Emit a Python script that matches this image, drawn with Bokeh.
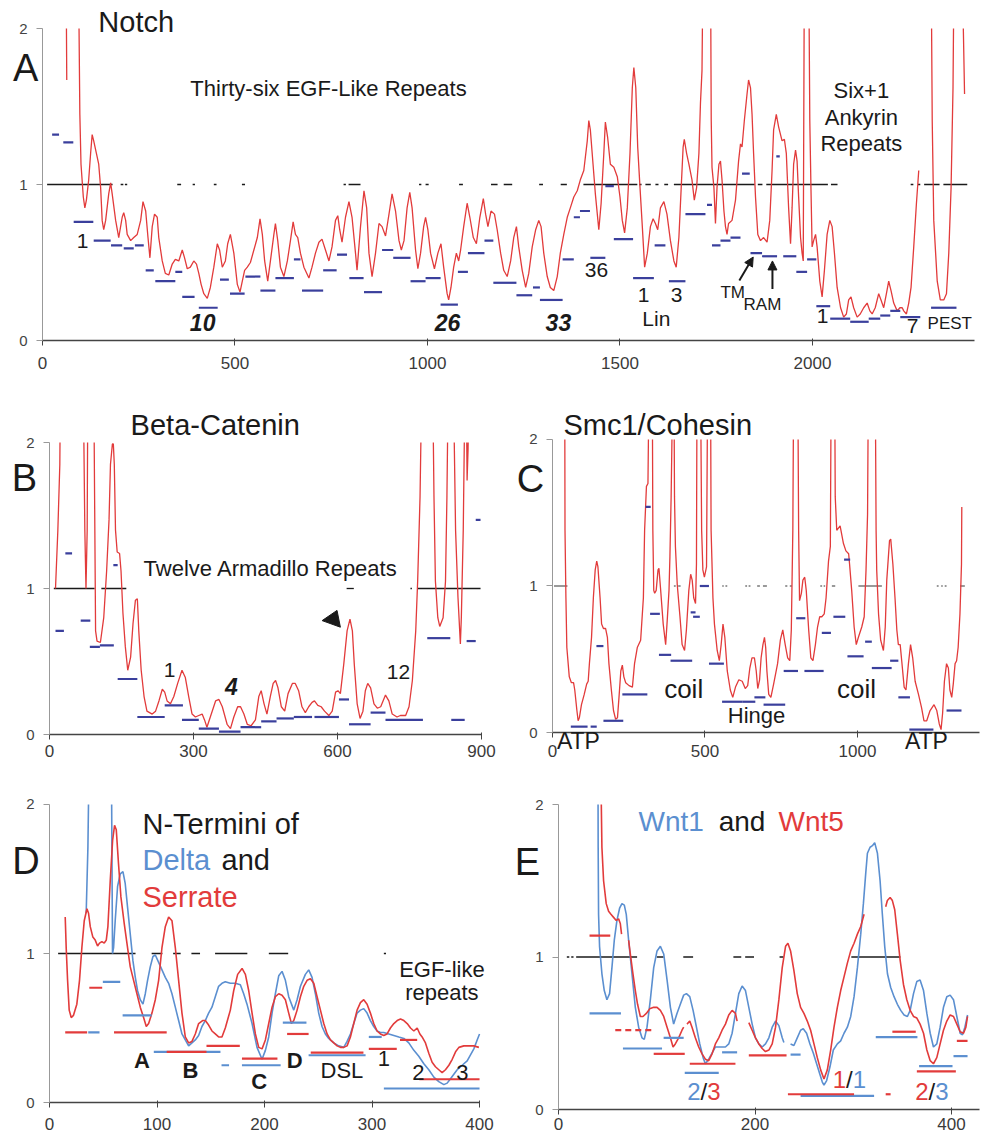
import math
from bokeh.plotting import figure
from bokeh.layouts import column, row
from bokeh.models import Range1d, FixedTicker, Label, Arrow, NormalHead
from bokeh.embed import file_html
from bokeh.resources import INLINE

N = None
RED = "#e23b3b"
NAVY = "#3a3f9c"
LBLUE = "#5b8fd0"
BLACK = "#1a1a1a"
FONT = "Liberation Sans"

# ---------------- Panel A : Notch ----------------
A_curve = [
    (61, 2.5), (63, 1.67), N,
    (93, 2.5), (97, 1.45), (100, 1.13), (106, 0.92), (110, 0.85), (114, 0.90), (120, 1.03), (125, 1.20),
    (129, 1.32), (133, 1.28), (140, 1.20), (146, 1.13), (151, 0.98), (155, 0.77), (159, 0.71), (164, 0.77),
    (172, 0.94), (177, 1.01), (181, 0.94), (190, 0.77), (198, 0.66), (207, 0.79), (211, 0.82), (216, 0.77),
    (220, 0.68), (229, 0.64), (237, 0.66), (246, 0.68), (255, 0.77), (261, 0.89), (268, 0.83), (274, 0.66),
    (279, 0.53), (285, 0.73), (291, 0.81), (298, 0.79), (302, 0.66), (311, 0.51), (319, 0.43), (328, 0.42),
    (337, 0.49), (345, 0.52), (354, 0.51), (363, 0.58), (369, 0.53), (376, 0.46), (384, 0.47), (393, 0.51),
    (400, 0.49), (406, 0.43), (412, 0.36), (419, 0.30), (428, 0.27), (436, 0.34), (445, 0.47), (454, 0.62),
    (460, 0.58), (467, 0.47), (475, 0.51), (481, 0.62), (488, 0.68), (497, 0.56), (506, 0.36), (513, 0.31),
    (519, 0.38), (525, 0.45), (532, 0.47), (540, 0.50), (549, 0.58), (558, 0.66), (565, 0.78), (571, 0.68),
    (577, 0.51), (585, 0.38), (592, 0.51), (601, 0.68), (605, 0.75), (611, 0.64), (618, 0.47), (627, 0.41),
    (636, 0.51), (644, 0.64), (651, 0.76), (657, 0.68), (663, 0.66), (670, 0.56), (679, 0.47), (692, 0.40),
    (700, 0.47), (709, 0.56), (718, 0.63), (726, 0.65), (735, 0.58), (744, 0.51), (752, 0.60), (761, 0.77),
    (767, 0.80), (772, 0.71), (778, 0.63), (787, 0.79), (796, 0.89), (804, 0.79), (813, 0.56), (817, 0.45),
    (826, 0.73), (835, 0.96), (842, 0.85), (848, 0.56), (856, 0.41), (865, 0.56), (874, 0.75), (882, 0.73),
    (891, 0.67), (900, 0.81), (908, 0.94), (917, 0.83), (926, 0.64), (932, 0.58), (939, 0.64), (947, 0.85),
    (954, 0.95), (960, 0.85), (969, 0.58), (975, 0.46), (982, 0.56), (990, 0.73), (995, 0.79), (1001, 0.71),
    (1008, 0.56), (1018, 0.46), (1027, 0.56), (1035, 0.62), (1042, 0.47), (1051, 0.30), (1055, 0.26),
    (1061, 0.34), (1068, 0.47), (1075, 0.56), (1081, 0.51), (1086, 0.58), (1094, 0.73), (1103, 0.88),
    (1110, 0.79), (1119, 0.66), (1127, 0.62), (1136, 0.79), (1145, 0.91), (1151, 0.81), (1157, 0.73),
    (1165, 0.83), (1174, 0.81), (1181, 0.71), (1190, 0.56), (1198, 0.45), (1207, 0.41), (1216, 0.51),
    (1224, 0.66), (1231, 0.73), (1237, 0.60), (1246, 0.45), (1255, 0.34), (1263, 0.43), (1272, 0.60),
    (1281, 0.71), (1289, 0.77), (1295, 0.73), (1302, 0.56), (1311, 0.41), (1319, 0.34), (1328, 0.32),
    (1337, 0.41), (1345, 0.56), (1354, 0.68), (1363, 0.79), (1371, 0.85), (1380, 0.92), (1389, 0.96),
    (1397, 1.03), (1406, 1.09), (1415, 1.28), (1419, 1.41), (1423, 1.35), (1430, 1.13), (1436, 0.94),
    (1445, 0.71), (1451, 0.88), (1458, 1.20), (1462, 1.40), (1468, 1.30), (1475, 1.13), (1484, 1.11),
    (1493, 1.05), (1500, 0.92), (1506, 0.77), (1512, 0.69), (1519, 0.85), (1526, 1.20), (1532, 1.62),
    (1536, 1.75), (1541, 1.62), (1546, 1.24), (1552, 0.98), (1558, 0.73), (1564, 0.47), (1571, 0.56),
    (1579, 0.73), (1586, 0.78), (1592, 0.75), (1598, 0.71), (1605, 0.85), (1614, 0.89), (1622, 0.81),
    (1631, 0.64), (1640, 0.51), (1646, 0.47), (1653, 0.66), (1659, 0.98), (1664, 1.24), (1667, 1.29),
    (1673, 1.20), (1679, 1.13), (1687, 1.03), (1693, 0.90), (1699, 0.98), (1705, 1.20), (1709, 1.52),
    (1713, 1.73), (1716, 2.5), (1735, 2.5), (1737, 1.41), (1739, 1.11), (1744, 0.98), (1748, 0.75),
    (1752, 0.98), (1757, 1.13), (1761, 1.15), (1765, 1.03), (1770, 0.83), (1774, 0.73), (1778, 0.68),
    (1782, 0.75), (1791, 0.77), (1800, 0.90), (1808, 1.15), (1813, 1.26), (1817, 1.24), (1823, 1.41),
    (1830, 1.58), (1834, 1.67), (1839, 1.62), (1843, 1.45), (1847, 1.20), (1852, 0.92), (1858, 0.68),
    (1865, 0.64), (1873, 0.66), (1882, 0.63), (1889, 0.77), (1895, 1.09), (1899, 1.35), (1906, 1.45),
    (1912, 1.37), (1921, 1.28), (1927, 1.29), (1932, 1.20), (1938, 0.85), (1943, 0.62), (1947, 0.85),
    (1951, 1.13), (1956, 1.22), (1960, 1.15), (1964, 0.92), (1969, 0.66), (1973, 0.56), (1976, 0.51),
    (1979, 2.5), (1990, 2.5), (1993, 1.41), (1996, 0.98), (1999, 0.60), (2003, 0.64), (2008, 0.68),
    (2012, 0.60), (2019, 0.38), (2025, 0.28), (2031, 0.45), (2038, 0.68), (2045, 0.77), (2051, 0.73),
    (2057, 0.56), (2064, 0.34), (2073, 0.21), (2081, 0.15), (2088, 0.17), (2094, 0.26), (2100, 0.28),
    (2107, 0.21), (2116, 0.15), (2124, 0.17), (2133, 0.21), (2142, 0.24), (2149, 0.19), (2155, 0.17),
    (2163, 0.21), (2172, 0.30), (2178, 0.26), (2185, 0.21), (2192, 0.30), (2198, 0.38), (2204, 0.32),
    (2211, 0.24), (2220, 0.19), (2227, 0.21), (2233, 0.21), (2237, 0.19), (2244, 0.17), (2250, 0.24),
    (2256, 0.34), (2263, 0.60), (2270, 0.88), (2276, 1.09), N,
    (2308, 2.5), (2311, 1.41), (2315, 0.77), (2324, 0.38), (2332, 0.26), (2341, 0.26), (2348, 0.30),
    (2354, 0.56), (2360, 0.98), (2365, 1.62), (2368, 2.5), N,
    (2388, 2.5), (2395, 1.58),
]
A_blue = [
    (25, 43, 1.32), (54, 80, 1.27), (81, 132, 0.76), (133, 177, 0.64), (178, 207, 0.61), (211, 237, 0.59),
    (240, 263, 0.61), (268, 289, 0.45), (293, 345, 0.38), (345, 363, 0.44), (363, 395, 0.28), (406, 455, 0.21),
    (461, 484, 0.39), (487, 525, 0.30), (527, 566, 0.41), (566, 605, 0.32), (605, 653, 0.40), (653, 670, 0.52),
    (674, 729, 0.32), (729, 764, 0.45), (765, 791, 0.55), (797, 834, 0.40), (835, 882, 0.31), (882, 911, 0.58),
    (911, 956, 0.53), (956, 995, 0.38), (995, 1034, 0.40), (1034, 1079, 0.23), (1079, 1105, 0.44),
    (1105, 1148, 0.56), (1148, 1171, 0.64), (1171, 1231, 0.37), (1231, 1272, 0.29), (1274, 1292, 0.34),
    (1292, 1351, 0.26), (1351, 1380, 0.52), (1380, 1396, 0.79), (1396, 1422, 0.83), (1423, 1462, 0.53),
    (1462, 1484, 0.99), (1484, 1534, 0.65), (1534, 1588, 0.40), (1590, 1618, 0.61), (1627, 1670, 0.38),
    (1670, 1722, 0.81), (1726, 1739, 0.87), (1739, 1761, 0.61), (1761, 1787, 0.64), (1787, 1813, 0.66),
    (1817, 1837, 1.07), (1839, 1869, 0.56), (1869, 1908, 0.54), (1906, 1915, 1.18), (1924, 1958, 0.54),
    (1958, 1986, 0.44), (1986, 2010, 0.52), (2010, 2046, 0.22), (2046, 2098, 0.14), (2098, 2146, 0.12),
    (2146, 2176, 0.14), (2176, 2202, 0.16), (2202, 2228, 0.19), (2228, 2280, 0.15), (2308, 2374, 0.21),
]
A_one = [
    (12, 182), (203, 210), (214, 220), (350, 360), (390, 396), (445, 452), (518, 526), (782, 788),
    (795, 826), (978, 984), (995, 1003), (1082, 1092), (1165, 1182), (1198, 1220), (1290, 1300),
    (1346, 1362), (1405, 1545), (1550, 1556), (1566, 1580), (1592, 1600), (1615, 1625), (1640, 1850),
    (1858, 1870), (1880, 2040), (2048, 2065), (2255, 2262), (2274, 2280), (2290, 2330), (2340, 2402),
]
A_xticks = [0, 500, 1000, 1500, 2000]

# ---------------- Panel B : Beta-Catenin ----------------
B_curve = [
    (12.5, 1.00), (17.4, 1.40), (21.5, 1.85), (23, 2.5), N,
    (70, 2.5), (73.6, 1.40), (76, 1.0), (78.5, 1.40), (80, 2.5), N,
    (92, 2.5), (96, 0.71), (99, 0.64), (106, 0.63), (113, 0.80), (119, 1.12), (124, 1.47), (127, 1.85),
    (131, 1.99), (133, 1.99), (135, 1.85), (137.5, 1.40), (141, 1.25), (146, 1.24), (149, 1.12), (153, 0.83),
    (158, 0.60), (163, 0.44), (169, 0.53), (174, 0.76), (179, 0.92), (183, 0.93), (186, 0.71), (191, 0.44),
    (197, 0.26), (203, 0.16), (214, 0.14), (221, 0.16), (228, 0.23), (235, 0.31), (240, 0.29), (245, 0.23),
    (252, 0.21), (259, 0.26), (267, 0.35), (276, 0.44), (283, 0.39), (290, 0.26), (297, 0.14), (304, 0.12),
    (311, 0.13), (318, 0.14), (323, 0.10), (328, 0.05), (335, 0.12), (346, 0.23), (353, 0.24), (360, 0.19),
    (370, 0.07), (377, 0.04), (384, 0.12), (392, 0.19), (398, 0.19), (405, 0.14), (412, 0.07), (420, 0.06),
    (429, 0.10), (436, 0.26), (441, 0.30), (447, 0.21), (453, 0.14), (460, 0.26), (466, 0.35), (471, 0.37),
    (476, 0.32), (483, 0.19), (490, 0.16), (497, 0.28), (506, 0.35), (512, 0.35), (519, 0.30), (526, 0.19),
    (533, 0.15), (540, 0.19), (547, 0.22), (552, 0.23), (559, 0.20), (566, 0.19), (573, 0.16), (582, 0.13),
    (589, 0.16), (596, 0.29), (601, 0.30), (606, 0.28), (613, 0.48), (620, 0.71), (626, 0.79), (631, 0.71),
    (635, 0.48), (641, 0.21), (647, 0.11), (653, 0.16), (658, 0.30), (663, 0.35), (669, 0.32), (676, 0.21),
    (683, 0.18), (690, 0.19), (700, 0.27), (707, 0.23), (714, 0.14), (724, 0.12), (731, 0.13), (742, 0.13),
    (749, 0.19), (756, 0.37), (763, 0.71), (767, 1.05), (772, 1.63), (776, 2.5), (798, 2.5), (801, 1.63),
    (804, 1.05), (809, 0.80), (813, 0.74), (820, 0.80), (825, 1.05), (828, 1.63), (831, 2.5), (841, 2.5),
    (846, 1.40), (851, 0.94), (856, 0.62), (858, 0.80), (862, 1.40), (866, 2.5), (868, 2.5), (870, 1.74),
    (872, 1.95), (874, 2.5),
]
B_blue = [
    (12.5, 30, 0.71), (33, 47, 1.24), (65, 85, 0.78), (84, 105, 0.60), (105, 134, 0.61), (133, 142, 1.16),
    (142, 183, 0.38), (183, 240, 0.12), (240, 278, 0.20), (276, 311, 0.10), (311, 353, 0.04), (353, 398, 0.02),
    (398, 441, 0.05), (441, 473, 0.09), (473, 509, 0.11), (509, 547, 0.12), (552, 603, 0.12), (603, 624, 0.24),
    (624, 669, 0.07), (669, 700, 0.15), (700, 778, 0.10), (787, 835, 0.66), (837, 865, 0.10), (869, 888, 0.64),
    (888, 898, 1.47),
]
B_one = [(9, 94), (108, 160), (619, 634), (752, 755), (766, 898)]
B_xticks = [0, 300, 600, 900]

# ---------------- Panel C : Smc1/Cohesin ----------------
C_curve = [
    (40, 2.5), (41, 1.38), (44, 0.92), (47, 0.58), (55, 0.38), (62, 0.34), (69, 0.34), (73, 0.29), (80, 0.15),
    (84, 0.08), (88, 0.10), (95, 0.19), (104, 0.26), (112, 0.33), (117, 0.35), (121, 0.47), (128, 0.65),
    (134, 0.92), (140, 1.11), (145, 1.17), (149, 1.13), (156, 0.92), (161, 0.74), (167, 0.71), (174, 0.71),
    (180, 0.65), (185, 0.47), (193, 0.29), (200, 0.15), (207, 0.09), (213, 0.10), (218, 0.24), (224, 0.42),
    (229, 0.46), (234, 0.38), (240, 0.34), (251, 0.32), (262, 0.31), (269, 0.47), (278, 0.58), (289, 0.63),
    (298, 0.92), (302, 1.38), (308, 1.68), (313, 1.70), (317, 2.5), (327, 2.5), (329, 1.38), (332, 0.97),
    (335, 0.95), (340, 0.97), (346, 1.11), (349, 1.12), (354, 0.99), (363, 0.74), (371, 0.60), (376, 0.76),
    (382, 0.97), (385, 1.20), (389, 1.61), (395, 2.5), (398, 2.5), (400, 1.61), (403, 1.27), (409, 1.01),
    (418, 0.79), (425, 0.60), (433, 0.56), (439, 0.70), (447, 0.97), (453, 1.08), (458, 1.04), (463, 0.92),
    (469, 0.88), (472, 1.15), (474, 2.5), (485, 2.5), (489, 1.38), (493, 1.11), (498, 1.06), (505, 1.13),
    (509, 2.5), (518, 2.5), (520, 1.38), (526, 0.92), (531, 0.74), (540, 0.56), (547, 0.49), (553, 0.60),
    (559, 0.74), (565, 0.65), (573, 0.42), (583, 0.29), (591, 0.24), (600, 0.31), (611, 0.36), (622, 0.35),
    (632, 0.30), (640, 0.32), (647, 0.44), (654, 0.51), (662, 0.51), (668, 0.42), (673, 0.30), (679, 0.36),
    (684, 0.51), (690, 0.60), (695, 0.65), (699, 0.58), (703, 0.42), (709, 0.26), (716, 0.24), (725, 0.33),
    (738, 0.47), (747, 0.63), (755, 0.70), (763, 0.60), (771, 0.51), (778, 0.49), (783, 0.70), (788, 1.38),
    (791, 2.5), (804, 2.5), (807, 1.38), (810, 0.90), (816, 0.95), (821, 1.04), (827, 1.06), (832, 0.97),
    (840, 0.70), (847, 0.51), (854, 0.49), (862, 0.60), (869, 0.72), (876, 0.79), (883, 0.79), (891, 0.81),
    (897, 0.92), (905, 1.17), (911, 1.27), (914, 2.5), (925, 2.5), (927, 1.61), (932, 1.38), (943, 1.41),
    (954, 1.29), (962, 1.24), (971, 1.22), (974, 1.15), (981, 0.97), (989, 0.72), (996, 0.60), (1003, 0.65),
    (1014, 0.72), (1022, 0.79), (1028, 1.11), (1033, 1.49), (1036, 2.5), (1058, 2.5), (1061, 1.38),
    (1063, 1.11), (1069, 0.81), (1076, 0.63), (1085, 0.56), (1091, 0.72), (1096, 1.04), (1105, 1.31),
    (1109, 1.32), (1116, 1.15), (1123, 0.92), (1129, 0.70), (1134, 0.60), (1140, 0.60), (1145, 0.49),
    (1153, 0.31), (1159, 0.29), (1167, 0.47), (1174, 0.60), (1181, 0.51), (1189, 0.35), (1200, 0.26),
    (1210, 0.17), (1218, 0.08), (1227, 0.08), (1238, 0.15), (1251, 0.19), (1260, 0.15), (1268, 0.06),
    (1274, 0.02), (1279, 0.13), (1285, 0.35), (1292, 0.47), (1298, 0.44), (1303, 0.29), (1309, 0.24),
    (1314, 0.33), (1320, 0.47), (1325, 0.49), (1330, 0.58), (1336, 0.81), (1341, 1.15), (1342, 1.54),
]
C_blue = [
    (60, 115, 0.04), (125, 145, 0.04), (144, 167, 0.59), (167, 232, 0.08), (229, 311, 0.26), (305, 322, 1.54),
    (320, 352, 0.81), (349, 389, 0.53), (387, 458, 0.49), (453, 469, 0.82), (461, 483, 0.79), (483, 513, 1.00),
    (513, 562, 0.47), (556, 622, 0.21), (622, 665, 0.21), (662, 698, 0.24), (692, 763, 0.19), (758, 805, 0.42),
    (799, 829, 0.78), (826, 889, 0.42), (883, 913, 0.68), (921, 960, 0.79), (956, 976, 1.18), (967, 1020, 0.52),
    (1025, 1047, 0.62), (1047, 1112, 0.44), (1107, 1134, 0.49), (1134, 1172, 0.24), (1170, 1249, 0.02),
    (1292, 1341, 0.15),
]
C_one = [
    (5, 49), (398, 404), (412, 420), (556, 562), (567, 573), (632, 638), (643, 649), (671, 680), (690, 703),
    (763, 770), (778, 785), (878, 884), (889, 894), (916, 927), (1003, 1080), (1260, 1266), (1274, 1280),
    (1286, 1292), (1336, 1352),
]
C_xticks = [0, 500, 1000]

# ---------------- Panel D : Delta / Serrate ----------------
D_serrate = [
    (14.6, 1.245), (15.5, 1.04), (16.8, 0.82), (18.3, 0.62), (20.2, 0.57), (22.3, 0.585), (25.4, 0.66),
    (27.9, 0.82), (30.1, 1.04), (32.3, 1.22), (34.8, 1.30), (36.3, 1.27), (37.9, 1.18), (40.3, 1.11),
    (42.5, 1.09), (44.7, 1.05), (46.5, 1.07), (48.7, 1.08), (50.9, 1.07), (52.8, 1.09), (54.3, 1.18),
    (56.5, 1.49), (58.7, 1.76), (60.5, 1.86), (62.1, 1.83), (64.2, 1.60), (66.4, 1.38), (69.5, 1.20),
    (72.0, 1.07), (75.1, 0.91), (78.2, 0.82), (81.3, 0.73), (84.4, 0.64), (87.5, 0.57), (90.0, 0.51),
    (92.2, 0.53), (95.3, 0.60), (98.4, 0.69), (101.5, 0.82), (104.6, 1.04), (107.7, 1.18), (110.8, 1.245),
    (113.9, 1.22), (117.0, 1.04), (120.1, 0.82), (123.2, 0.60), (126.3, 0.44), (129.4, 0.40), (132.5, 0.41),
    (135.6, 0.46), (138.7, 0.53), (142.4, 0.55), (144.9, 0.55), (148.0, 0.52), (151.1, 0.48), (154.2, 0.46),
    (157.3, 0.44), (160.4, 0.44), (163.5, 0.50), (168.2, 0.62), (171.3, 0.75), (175.0, 0.86), (179.1, 0.90),
    (182.2, 0.86), (185.3, 0.75), (188.4, 0.60), (191.5, 0.46), (194.6, 0.37), (197.7, 0.36), (200.8, 0.42),
    (203.9, 0.53), (207.0, 0.64), (210.1, 0.71), (213.2, 0.73), (216.3, 0.72), (219.4, 0.69), (222.5, 0.60),
    (225.0, 0.53), (227.2, 0.55), (230.3, 0.62), (233.4, 0.71), (236.5, 0.78), (239.6, 0.82), (242.7, 0.83),
    (245.8, 0.80), (248.9, 0.71), (252.0, 0.62), (255.1, 0.53), (258.2, 0.46), (261.3, 0.42), (264.4, 0.40),
    (267.5, 0.38), (270.6, 0.37), (273.7, 0.37), (276.8, 0.38), (279.9, 0.44), (283.0, 0.53), (286.1, 0.62),
    (289.2, 0.67), (292.3, 0.69), (295.4, 0.66), (298.5, 0.60), (301.6, 0.53), (304.7, 0.48), (307.8, 0.46),
    (310.9, 0.45), (314.0, 0.46), (317.1, 0.50), (320.3, 0.53), (323.4, 0.55), (326.5, 0.56), (329.6, 0.55),
    (332.7, 0.53), (335.8, 0.50), (338.9, 0.48), (342.0, 0.50), (344.5, 0.46), (346.6, 0.44), (349.7, 0.40),
    (352.8, 0.33), (355.9, 0.27), (359.0, 0.24), (362.1, 0.22), (365.2, 0.20), (368.3, 0.22), (371.5, 0.25),
    (374.6, 0.29), (377.7, 0.34), (380.8, 0.37), (385.4, 0.38), (390.1, 0.38), (394.7, 0.38), (399.4, 0.37),
]
D_delta = [
    (34.1, 1.27), (35.7, 1.71), (37.2, 2.5), (57.4, 2.5), (58.6, 1.0), (59.6, 1.04), (61.1, 1.22), (63.3, 1.45),
    (65.8, 1.535), (68.3, 1.55), (70.4, 1.47), (72.6, 1.31), (75.1, 1.13), (77.6, 0.95), (79.8, 0.84),
    (81.9, 0.75), (84.4, 0.69), (86.9, 0.66), (89.1, 0.73), (91.2, 0.82), (93.7, 0.91), (96.2, 0.98),
    (98.4, 0.99), (101.5, 0.94), (104.6, 0.89), (107.7, 0.84), (110.8, 0.80), (113.9, 0.73), (117.0, 0.64),
    (120.1, 0.55), (123.2, 0.46), (126.3, 0.42), (129.4, 0.38), (132.5, 0.40), (135.6, 0.42), (138.7, 0.45),
    (141.8, 0.51), (144.9, 0.55), (148.0, 0.60), (151.1, 0.64), (154.2, 0.71), (157.3, 0.78), (160.4, 0.80),
    (163.5, 0.81), (168.2, 0.80), (172.8, 0.80), (177.5, 0.79), (180.6, 0.73), (183.7, 0.66), (188.4, 0.53),
    (193.0, 0.37), (197.7, 0.29), (200.8, 0.35), (203.9, 0.44), (207.0, 0.60), (210.1, 0.73), (213.2, 0.85),
    (216.3, 0.88), (219.4, 0.82), (222.5, 0.71), (227.2, 0.62), (230.3, 0.69), (233.4, 0.78), (238.0, 0.86),
    (241.1, 0.89), (244.2, 0.84), (247.3, 0.73), (250.4, 0.60), (253.5, 0.51), (256.6, 0.46), (259.7, 0.43),
    (264.4, 0.40), (269.0, 0.38), (273.7, 0.37), (276.8, 0.41), (279.9, 0.46), (283.0, 0.53), (286.1, 0.60),
    (289.2, 0.62), (292.3, 0.63), (295.4, 0.60), (298.5, 0.55), (301.6, 0.51), (304.7, 0.48), (307.8, 0.47),
    (310.9, 0.47), (315.6, 0.46), (320.3, 0.45), (324.9, 0.44), (329.6, 0.43), (334.2, 0.40), (338.9, 0.35),
    (343.5, 0.31), (348.2, 0.26), (352.8, 0.22), (357.5, 0.17), (362.1, 0.14), (366.8, 0.12), (369.9, 0.13),
    (373.0, 0.16), (376.1, 0.19), (379.2, 0.22), (382.3, 0.24), (385.4, 0.26), (388.5, 0.28), (391.6, 0.32),
    (394.7, 0.36), (397.8, 0.42), (400, 0.46),
]
D_red_segs = [
    (14.6, 35, 0.47), (37, 49, 0.77), (60, 109, 0.47), (109, 146, 0.34), (146, 177, 0.38), (179, 212, 0.295),
    (221, 241, 0.46), (243, 292, 0.335), (297, 323, 0.36), (326, 342, 0.42), (344, 400, 0.156),
]
D_blue_segs = [
    (36, 46.5, 0.47), (49.6, 65.8, 0.81), (68, 95, 0.585), (97, 159, 0.34), (160, 167, 0.25), (179, 215, 0.25),
    (217, 239, 0.536), (241, 294, 0.317), (297, 309, 0.44), (311, 400, 0.094),
]
D_one = [(8, 80), (95, 105), (115, 122), (132, 140), (154, 184), (204, 222), (311, 313)]
D_xticks = [0, 100, 200, 300, 400]

# ---------------- Panel E : Wnt1 / Wnt5 ----------------
E_wnt1 = [
    (40.1, 2.5), (40.4, 1.72), (40.8, 1.28), (41.8, 1.07), (44.2, 0.89), (46.6, 0.78), (49.3, 0.72),
    (52.0, 0.76), (54.4, 0.93), (56.8, 1.11), (59.5, 1.24), (62.2, 1.32), (64.6, 1.35), (67.0, 1.34),
    (69.0, 1.28), (71.4, 1.11), (74.8, 0.89), (78.2, 0.67), (81.6, 0.54), (85.0, 0.47), (87.3, 0.46),
    (90.1, 0.54), (93.5, 0.72), (96.9, 0.93), (100.3, 1.04), (103.7, 1.07), (107.1, 1.02), (110.5, 0.85),
    (113.9, 0.67), (117.2, 0.56), (120.6, 0.63), (124.0, 0.69), (127.4, 0.75), (130.2, 0.76), (133.6, 0.74),
    (137.0, 0.65), (140.4, 0.54), (143.8, 0.43), (147.2, 0.34), (149.5, 0.30), (152.9, 0.33), (156.3, 0.37),
    (159.7, 0.41), (163.1, 0.41), (166.5, 0.41), (169.9, 0.41), (173.3, 0.43), (176.7, 0.50), (180.1, 0.63),
    (183.5, 0.76), (186.9, 0.81), (190.3, 0.78), (193.7, 0.67), (197.1, 0.56), (200.5, 0.47), (203.9, 0.43),
    (207.3, 0.41), (210.7, 0.43), (214.1, 0.47), (217.5, 0.54), (220.9, 0.58), (224.3, 0.55), (227.7, 0.47),
    (229.4, 0.44), N,
    (236.2, 0.43), (239.6, 0.42), (243.0, 0.47), (246.4, 0.52), (249.1, 0.53), (252.5, 0.50), (255.9, 0.43),
    (259.3, 0.37), (262.7, 0.30), (266.1, 0.23), (268.5, 0.18), (270.2, 0.16), (272.9, 0.19), (276.3, 0.28),
    (279.7, 0.39), (283.8, 0.43), (287.2, 0.45), (290.6, 0.50), (294.0, 0.54), (297.4, 0.61), (300.8, 0.74),
    (304.2, 0.93), (307.6, 1.15), (310.3, 1.35), (312.7, 1.55), (314.4, 1.68), (317.1, 1.72), (319.5, 1.73),
    (321.8, 1.75), (324.6, 1.68), (327.3, 1.50), (329.6, 1.28), (332.0, 1.07), (334.8, 0.89), (338.1, 0.80),
    (341.5, 0.74), (344.9, 0.69), (348.3, 0.65), (351.7, 0.62), (355.1, 0.61), (357.9, 0.65), (361.3, 0.76),
    (364.7, 0.84), (368.0, 0.85), (371.5, 0.78), (374.9, 0.63), (378.3, 0.50), (381.6, 0.41), (385.0, 0.43),
    (388.4, 0.54), (391.8, 0.67), (395.2, 0.74), (398.6, 0.75), (402.0, 0.72), (405.4, 0.61), (408.8, 0.50),
    (411.2, 0.49), (413.6, 0.54), (416.3, 0.62),
]
E_wnt5 = [
    (42.5, 2.5), (44.2, 1.72), (45.9, 1.50), (48.6, 1.35), (51.0, 1.30), (53.4, 1.28), (56.1, 1.26),
    (58.8, 1.24), (61.2, 1.25), (62.9, 1.22), (64.2, 1.15), N,
    (71.4, 1.11), (73.1, 1.02), (75.8, 0.89), (78.2, 0.78), (80.5, 0.69), (83.3, 0.61), (86.0, 0.61),
    (89.4, 0.63), (92.8, 0.66), (96.9, 0.67), (100.3, 0.67), (103.7, 0.65), (107.1, 0.61), (110.5, 0.54),
    (113.9, 0.47), (116.6, 0.41), (118.9, 0.43), (122.3, 0.47), (125.7, 0.52), (127.4, 0.54), N,
    (130.8, 0.56), (133.6, 0.58), (135.9, 0.54), (139.3, 0.47), (142.7, 0.41), (146.1, 0.365), (149.5, 0.33),
    (152.9, 0.32), (156.3, 0.365), (159.7, 0.43), (163.1, 0.47), (166.5, 0.52), (169.9, 0.56), (173.3, 0.62),
    (176.7, 0.65), (180.1, 0.63), (181.8, 0.58), N,
    (193.7, 0.57), (197.1, 0.52), (200.5, 0.47), (203.9, 0.43), (207.3, 0.40), (210.7, 0.38), (214.1, 0.39),
    (217.5, 0.43), (220.9, 0.54), (224.3, 0.72), (227.7, 0.93), (231.1, 1.07), (233.5, 1.09), (236.2, 1.04),
    (239.6, 0.91), (243.0, 0.76), (246.4, 0.67), (249.8, 0.63), (253.2, 0.58), (256.6, 0.52), (260.0, 0.43),
    (263.4, 0.34), (266.8, 0.26), (270.2, 0.20), (273.6, 0.26), (277.0, 0.39), (280.4, 0.54), (283.8, 0.67),
    (287.2, 0.78), (290.6, 0.87), (294.0, 0.96), (297.4, 1.04), (300.8, 1.09), (304.2, 1.15), (307.6, 1.20),
    (311.0, 1.28), N,
    (333.0, 1.33), (334.7, 1.37), (337.5, 1.39), (339.8, 1.37), (342.2, 1.31), (344.9, 1.15), (347.7, 0.98),
    (351.1, 0.82), (354.5, 0.72), (357.9, 0.65), (361.3, 0.61), (364.7, 0.60), (368.0, 0.56), (371.5, 0.50),
    (374.9, 0.39), (378.3, 0.32), (381.6, 0.30), (385.0, 0.34), (388.4, 0.43), (391.8, 0.52), (395.2, 0.58),
    (398.6, 0.62), (402.0, 0.61), (405.4, 0.56), (408.8, 0.51), (412.2, 0.50), (414.6, 0.54), (416.3, 0.61),
]
E_red_segs = [
    (31.6, 52.7, 1.14), (96.9, 128.5, 0.365), (133.6, 180.1, 0.30), (193.7, 232.1, 0.355), (233.5, 300.8, 0.10),
    (333, 338, 0.10), (339.8, 363.6, 0.51), (364.7, 404.4, 0.25), (405.4, 416.3, 0.45),
]
E_red_dashed = [(57.8, 95.2, 0.52)]
E_blue_segs = [
    (31.6, 63.6, 0.63), (65.6, 105.4, 0.40), (107, 127.4, 0.47), (128.5, 163.1, 0.24), (166.5, 181.8, 0.375),
    (236.2, 246.4, 0.36), (246.4, 321.2, 0.09), (322.9, 365.3, 0.475), (367, 401, 0.285), (402, 416.3, 0.35),
]
E_one = [(8.5, 11), (13, 15.3), (18, 80), (100, 107), (127, 137), (178, 186), (190, 199), (225, 229), (298, 348)]
E_xticks = [0, 200, 400]

Y_TICKS = [0, 1, 2]
Y_TOP = 2.0  # top of the y axis; curves are cut there, as in the original


def xy(pts, top=Y_TOP):
    """Split the polyline where it leaves the plotted band (y > top), like an axis clip."""
    xs, ys = [], []
    prev = None
    for p in pts:
        if p is None:
            xs.append(math.nan); ys.append(math.nan); prev = None
            continue
        x, y = p
        if prev is None:
            if y <= top:
                xs.append(x); ys.append(y)
        else:
            px, py = prev
            if py <= top and y <= top:
                xs.append(x); ys.append(y)
            elif py <= top < y:
                t = (top - py) / (y - py)
                xs += [px + t * (x - px), math.nan]; ys += [top, math.nan]
            elif y <= top < py:
                t = (top - py) / (y - py)
                xs += [px + t * (x - px), x]; ys += [top, y]
        prev = p
    return xs, ys


def make_fig(w, h, xr, yr, xbound, xticks, stand):
    p = figure(width=w, height=h, x_range=Range1d(*xr), y_range=Range1d(*yr),
               output_backend="svg", toolbar_location=None,
               min_border_left=0, min_border_right=0, min_border_top=0, min_border_bottom=0)
    p.grid.visible = False
    p.outline_line_color = None
    xa = p.xaxis[0]
    xa.fixed_location = 0
    xa.bounds = (0, xbound)
    xa.ticker = FixedTicker(ticks=xticks)
    xa.axis_line_color = "#444444"
    xa.axis_line_width = 1.5
    xa.major_tick_line_color = "#444444"
    xa.major_tick_out = 5
    xa.major_tick_in = 2
    xa.minor_tick_line_color = None
    xa.major_label_text_font = FONT
    xa.major_label_text_font_size = "17px"
    xa.major_label_text_color = "#3a3a3a"
    xa.major_label_standoff = stand
    ya = p.yaxis[0]
    ya.fixed_location = 0
    ya.bounds = (0, 2)
    ya.ticker = FixedTicker(ticks=Y_TICKS)
    ya.axis_line_color = "#999999"
    ya.major_tick_line_color = "#999999"
    ya.major_tick_out = 6
    ya.major_tick_in = 0
    ya.minor_tick_line_color = None
    ya.major_label_text_font = FONT
    ya.major_label_text_font_size = "15px"
    ya.major_label_text_color = "#444444"
    ya.major_label_standoff = 9
    return p


def lab(p, x, y, text, size, color=BLACK, align="left", style="normal"):
    p.add_layout(Label(x=x, y=y, text=text, text_font=FONT, text_font_size=f"{size}px",
                       text_color=color, text_align=align, text_baseline="middle",
                       text_font_style=style))


def segs(p, lst, color, width, dash="solid"):
    p.segment(x0=[s[0] for s in lst], x1=[s[1] for s in lst], y0=[s[2] for s in lst],
              y1=[s[2] for s in lst], line_color=color, line_width=width, line_dash=dash)


def ones(p, lst, color=BLACK, width=1.3):
    p.segment(x0=[s[0] for s in lst], x1=[s[1] for s in lst], y0=[1] * len(lst), y1=[1] * len(lst),
              line_color=color, line_width=width)


# ---- A ----  (page box x 0..981, y 0..380)
pA = make_fig(981, 380, (-109.1, 2439.0), (-0.2564, 2.1795), 2420, A_xticks, 11)
ones(pA, A_one)
ax, ay = xy(A_curve)
pA.line(ax, ay, line_color=RED, line_width=1.3)
segs(pA, A_blue, NAVY, 2.2)
lab(pA, -44, 1.75, "A", 38, align="center")
lab(pA, 145, 2.04, "Notch", 29)
lab(pA, 384, 1.615, "Thirty-six EGF-Like Repeats", 22)
lab(pA, 104, 0.64, "1", 21, align="center")
lab(pA, 416, 0.115, "10", 23, align="center", style="bold italic")
lab(pA, 1052, 0.115, "26", 23, align="center", style="bold italic")
lab(pA, 1340, 0.115, "33", 23, align="center", style="bold italic")
lab(pA, 1439, 0.45, "36", 21, align="center")
lab(pA, 1561, 0.29, "1", 21, align="center")
lab(pA, 1647, 0.29, "3", 21, align="center")
lab(pA, 1558, 0.14, "Lin", 21)
lab(pA, 1761, 0.31, "TM", 17)
lab(pA, 1821, 0.23, "RAM", 17)
lab(pA, 2127, 1.60, "Six+1", 22, align="center")
lab(pA, 2127, 1.43, "Ankyrin", 22, align="center")
lab(pA, 2127, 1.26, "Repeats", 22, align="center")
lab(pA, 2026, 0.16, "1", 21, align="center")
lab(pA, 2260, 0.09, "7", 21, align="center")
lab(pA, 2299, 0.11, "PEST", 17)
pA.add_layout(Arrow(end=NormalHead(size=9, fill_color=BLACK, line_color=BLACK),
                    x_start=1810, y_start=0.385, x_end=1846, y_end=0.535, line_width=2, line_color=BLACK))
pA.add_layout(Arrow(end=NormalHead(size=9, fill_color=BLACK, line_color=BLACK),
                    x_start=1896, y_start=0.33, x_end=1896, y_end=0.51, line_width=2, line_color=BLACK))

# ---- B ----  (page box x 0..500, y 380..775)
pB = make_fig(500, 395, (-102.1, 939.6), (-0.2808, 2.4247), 900, B_xticks, 5)
ones(pB, B_one)
bx, by = xy(B_curve)
pB.line(bx, by, line_color=RED, line_width=1.3)
segs(pB, B_blue, NAVY, 2.2)
lab(pB, -52, 1.76, "B", 38, align="center")
lab(pB, 169, 2.12, "Beta-Catenin", 29)
lab(pB, 196, 1.14, "Twelve Armadillo Repeats", 22)
lab(pB, 250, 0.445, "1", 21, align="center")
lab(pB, 379, 0.33, "4", 23, align="center", style="bold italic")
lab(pB, 727, 0.425, "12", 21, align="center")
pB.patch([568, 599, 606], [0.78, 0.85, 0.735], fill_color=BLACK, line_color=BLACK)

# ---- C ----  (page box x 500..981, y 380..775)
pC = make_fig(481, 395, (-170.5, 1406.6), (-0.2935, 2.4027), 1400, C_xticks, 7)
ones(pC, C_one, color="#555555", width=1.2)
cx, cy = xy(C_curve)
pC.line(cx, cy, line_color=RED, line_width=1.3)
segs(pC, C_blue, NAVY, 2.2)
lab(pC, -72, 1.73, "C", 38, align="center")
lab(pC, 36, 2.10, "Smc1/Cohesin", 29)
lab(pC, 430, 0.30, "coil", 26, align="center")
lab(pC, 997, 0.30, "coil", 26, align="center")
lab(pC, 669, 0.116, "Hinge", 22, align="center")
lab(pC, 85, -0.06, "ATP", 23, align="center")
lab(pC, 1226, -0.06, "ATP", 23, align="center")

# ---- D ----  (page box x 0..500, y 775..1141)
pD = make_fig(500, 366, (-45.6, 419.5), (-0.2617, 2.1946), 400, D_xticks, 10)
ones(pD, D_one)
dbx, dby = xy(D_delta)
pD.line(dbx, dby, line_color=LBLUE, line_width=1.6)
drx, dry = xy(D_serrate)
pD.line(drx, dry, line_color=RED, line_width=1.6)
segs(pD, D_blue_segs, LBLUE, 2.2)
segs(pD, D_red_segs, RED, 2.2)
lab(pD, -22, 1.62, "D", 38, align="center")
lab(pD, 86.5, 1.87, "N-Termini of", 29)
lab(pD, 86.5, 1.63, "Delta", 29, color=LBLUE)
lab(pD, 160, 1.63, "and", 29)
lab(pD, 86.5, 1.38, "Serrate", 29, color=RED)
lab(pD, 365, 0.89, "EGF-like", 22, align="center")
lab(pD, 365, 0.74, "repeats", 22, align="center")
lab(pD, 86, 0.28, "A", 22, align="center", style="bold")
lab(pD, 131, 0.215, "B", 22, align="center", style="bold")
lab(pD, 195, 0.14, "C", 22, align="center", style="bold")
lab(pD, 228, 0.28, "D", 22, align="center", style="bold")
lab(pD, 272, 0.215, "DSL", 22, align="center")
lab(pD, 311, 0.295, "1", 22, align="center")
lab(pD, 343, 0.20, "2", 22, align="center")
lab(pD, 384, 0.20, "3", 22, align="center")

# ---- E ----  (page box x 500..981, y 775..1141)
pE = make_fig(481, 366, (-59.0, 430.5), (-0.2098, 2.1902), 428, E_xticks, 3)
ones(pE, E_one)
ebx, eby = xy(E_wnt1)
pE.line(ebx, eby, line_color=LBLUE, line_width=1.6)
erx, ery = xy(E_wnt5)
pE.line(erx, ery, line_color=RED, line_width=1.6)
segs(pE, E_blue_segs, LBLUE, 2.2)
segs(pE, E_red_segs, RED, 2.2)
segs(pE, E_red_dashed, RED, 2.2, dash="6 4")
lab(pE, -31.5, 1.62, "E", 38, align="center")
lab(pE, 81.4, 1.89, "Wnt1", 28, color=LBLUE)
lab(pE, 163, 1.89, "and", 28)
lab(pE, 224, 1.89, "Wnt5", 28, color=RED)
lab(pE, 131, 0.12, "2", 24, color=LBLUE)
lab(pE, 144.5, 0.12, "/", 24)
lab(pE, 151.5, 0.12, "3", 24, color=RED)
lab(pE, 279, 0.20, "1", 24, color=RED)
lab(pE, 292.5, 0.20, "/", 24)
lab(pE, 299.5, 0.20, "1", 24, color=LBLUE)
lab(pE, 363, 0.12, "2", 24, color=RED)
lab(pE, 376.5, 0.12, "/", 24)
lab(pE, 383.5, 0.12, "3", 24, color=LBLUE)

layout = column(pA, row(pB, pC), row(pD, pE))
open("out.html", "w").write(file_html(layout, INLINE))
